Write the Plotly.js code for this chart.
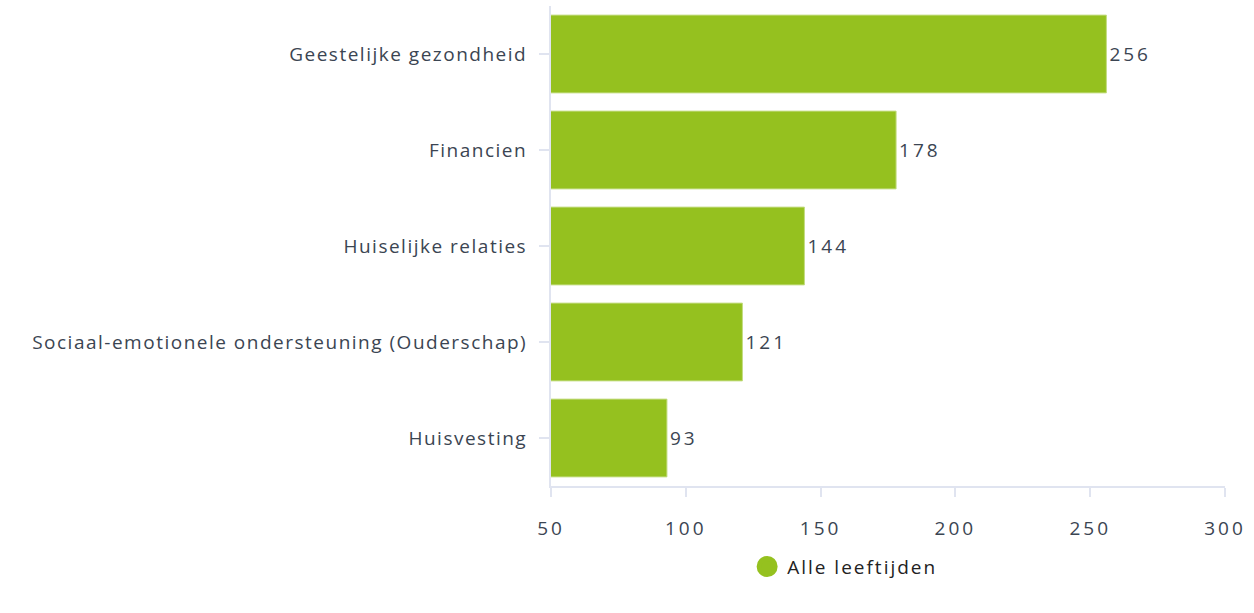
<!DOCTYPE html>
<html>
<head>
<meta charset="utf-8">
<script src="https://cdn.plot.ly/plotly-3.0.1.min.js"></script>
<style>
html,body{margin:0;padding:0;background:#fff;}
#chart .ytick text{letter-spacing:1.5px;}
#chart .xtick text{letter-spacing:3px;}
#chart .legendtext{letter-spacing:2px;}
</style>
</head>
<body>
<div id="chart" style="width:1254px;height:613px;"></div>
<script>
const categories = ["Geestelijke gezondheid","Financien","Huiselijke relaties","Sociaal-emotionele ondersteuning (Ouderschap)","Huisvesting"];
const values = [256,178,144,121,93];
const seriesName = "Alle leeftijden";
const xTicks = [50,100,150,200,250,300];

const green = "#95c11f";
const textCol = "#3b4552";
const font = "Open Sans, Noto Sans, sans-serif";

const data = [
  {
    type: "bar",
    orientation: "h",
    y: categories,
    x: values,
    name: seriesName,
    showlegend: false,
    marker: {color: green, line: {color: "#c3dc80", width: 1}},
    text: values.map(v => '<span style="letter-spacing:3px">' + v + '</span>'),
    textposition: "outside",
    cliponaxis: false,
    textfont: {family: font, size: 19, color: textCol},
    hoverinfo: "x+y"
  },
  {
    type: "scatter",
    mode: "markers",
    x: [null], y: [null],
    name: seriesName,
    showlegend: true,
    marker: {color: green, size: 16, symbol: "circle", line: {color: green, width: 5}}
  }
];

const layout = {
  width: 1254, height: 613,
  margin: {l: 551, r: 29, t: 6, b: 127},
  paper_bgcolor: "#fff",
  plot_bgcolor: "#fff",
  font: {family: font, size: 19, color: textCol},
  bargap: 0.19,
  xaxis: {
    range: [50, 300],
    tickvals: xTicks,
    ticktext: xTicks.map(String),
    showgrid: false,
    zeroline: false,
    showline: true,
    linecolor: "#e0e4f0",
    linewidth: 2,
    ticks: "outside",
    ticklen: 9,
    tickcolor: "#e0e4f0",
    tickwidth: 2,
    ticklabelstandoff: 15,
    tickfont: {family: font, size: 19, color: textCol},
    fixedrange: true
  },
  yaxis: {
    categoryorder: "array",
    categoryarray: categories.slice().reverse(),
    autorange: true,
    showgrid: false,
    zeroline: false,
    showline: true,
    linecolor: "#e0e4f0",
    linewidth: 2,
    ticks: "outside",
    ticklen: 10,
    tickcolor: "#e0e4f0",
    tickwidth: 2,
    ticklabelstandoff: 8,
    tickfont: {family: font, size: 19, color: textCol},
    fixedrange: true
  },
  showlegend: true,
  legend: {
    orientation: "h",
    x: 0.291, xanchor: "left",
    y: -0.168, yanchor: "middle",
    font: {family: font, size: 19, color: "#222"},
    itemsizing: "trace",
    entrywidth: 230,
    entrywidthmode: "pixels"
  }
};

Plotly.newPlot("chart", data, layout, {displayModeBar: false, responsive: false});
</script>
</body>
</html>
